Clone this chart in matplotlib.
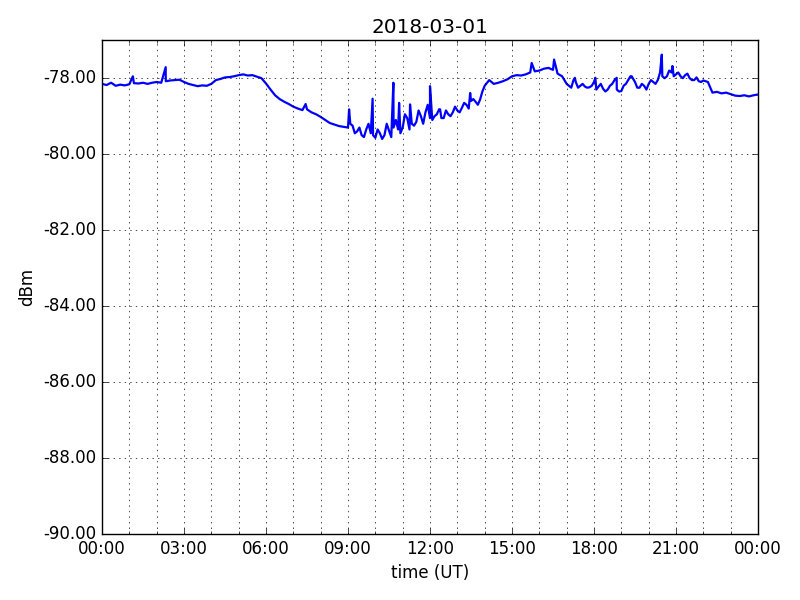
import datetime as dt
import matplotlib
matplotlib.use("Agg")
import matplotlib.pyplot as plt
import matplotlib.dates as mdates
from matplotlib.ticker import FormatStrFormatter

plt.style.use("classic")

day = dt.datetime(2018, 3, 1)
title = "2018-03-01"

# signal level every 10 minutes (dBm), 00:00 .. 24:00
level = [
    -78.15, -78.18, -78.12, -78.20, -78.17, -78.19,
    -78.16, -78.13, -78.14, -78.12, -78.15, -78.12,
    -78.10, -78.12, -78.08, -78.06, -78.05, -78.04,
    -78.10, -78.15, -78.18, -78.21, -78.19, -78.20,
    -78.15, -78.05, -78.02, -77.98, -77.97, -77.95,
    -77.92, -77.90, -77.93, -77.92, -77.96, -78.00,
    -78.14, -78.30, -78.45, -78.55, -78.62, -78.68,
    -78.75, -78.80, -78.84, -78.82, -78.90, -78.95,
    -79.02, -79.10, -79.18, -79.22, -79.26, -79.28,
    -79.30, -79.25, -79.40, -79.50, -79.35, -79.45,
    -79.57, -79.45, -79.50, -79.38, -79.30, -79.35,
    -79.30, -79.05, -79.20, -79.15, -79.00, -78.90,
    -79.05, -79.00, -78.82, -79.05, -78.95, -78.90,
    -78.85, -78.78, -78.70, -78.60, -78.62, -78.56,
    -78.20, -78.05, -78.15, -78.12, -78.08, -78.03,
    -77.95, -77.92, -77.93, -77.90, -77.85, -77.82,
    -77.80, -77.75, -77.73, -77.78, -77.88, -77.95,
    -78.15, -78.25, -78.10, -78.20, -78.22, -78.24,
    -78.10, -78.22, -78.28, -78.30, -78.15, -78.30,
    -78.34, -78.15, -77.95, -78.10, -78.25, -78.20,
    -78.15, -78.10, -78.05, -77.95, -77.95, -77.85,
    -77.90, -77.95, -77.92, -78.00, -78.05, -78.08,
    -78.06, -78.10, -78.38, -78.36, -78.40, -78.38,
    -78.42, -78.46, -78.47, -78.45, -78.48, -78.45,
    -78.43,
]

# in-between readings (xx:05, xx:15, ...) for the noisy stretches
mid_level_0900 = [
    -79.20, -79.45, -79.30, -79.55, -79.20, -79.50,
    -79.35, -79.60, -79.20, -79.55, -79.10, -79.45,
    -78.95, -79.35, -79.25, -78.85, -79.20, -78.70,
    -79.10, -78.95, -79.05, -78.85, -79.00, -78.75,
    -78.90, -78.65, -78.80, -78.55, -78.70, -78.35,
]
mid_level_1700 = [
    -78.20, -78.05, -78.25, -78.15, -78.25, -78.20,
    -78.30, -78.15, -78.35, -78.20, -78.05, -78.35,
    -78.20, -78.05, -78.00, -78.25, -78.15, -78.30,
    -78.05, -78.15, -77.85, -78.00, -77.80, -77.95,
    -77.85, -78.00, -77.88, -78.05, -77.98, -78.10,
]

# short spikes (hour of day, dBm)
spike_hour = [1.13, 2.33, 7.45, 9.04, 9.9, 10.66, 10.87, 11.27, 12.0,
              12.37, 13.47, 15.72, 16.54, 17.3, 18.05, 18.83, 19.38,
              20.48, 20.87]
spike_level = [-77.95, -77.71, -78.68, -78.82, -78.54, -78.12, -78.65, -78.69, -78.21,
               -78.82, -78.39, -77.60, -77.51, -77.99, -77.99, -77.99, -77.95,
               -77.38, -77.68]

pts = [(i / 6.0, v) for i, v in enumerate(level)]
pts += [(9 + (2 * k + 1) / 12.0, v) for k, v in enumerate(mid_level_0900)]
pts += [(17 + (2 * k + 1) / 12.0, v) for k, v in enumerate(mid_level_1700)]
pts += list(zip(spike_hour, spike_level))
pts.sort()
times = [day + dt.timedelta(hours=h) for h, _ in pts]
values = [v for _, v in pts]

fig = plt.figure(figsize=(8, 6), facecolor="white")
ax = fig.add_subplot(111)
fig.subplots_adjust(left=0.1275, right=0.9475, top=0.933, bottom=0.11)

ax.plot(times, values, color="b", linewidth=1.6)

ax.set_xlim(day, day + dt.timedelta(days=1))
ax.set_ylim(-90, -77)
ax.set_yticks(range(-90, -77, 2))
ax.yaxis.set_major_formatter(FormatStrFormatter("%.2f"))
ax.xaxis.set_major_locator(mdates.HourLocator(byhour=range(0, 24, 3)))
ax.xaxis.set_minor_locator(mdates.HourLocator())
ax.xaxis.set_major_formatter(mdates.DateFormatter("%H:%M"))
ax.grid(True, which="both", color="k", linestyle=":")

ax.set_title(title)
ax.set_xlabel("time (UT)")
ax.set_ylabel("dBm")

fig.savefig("out.png", dpi=100, facecolor="white")
